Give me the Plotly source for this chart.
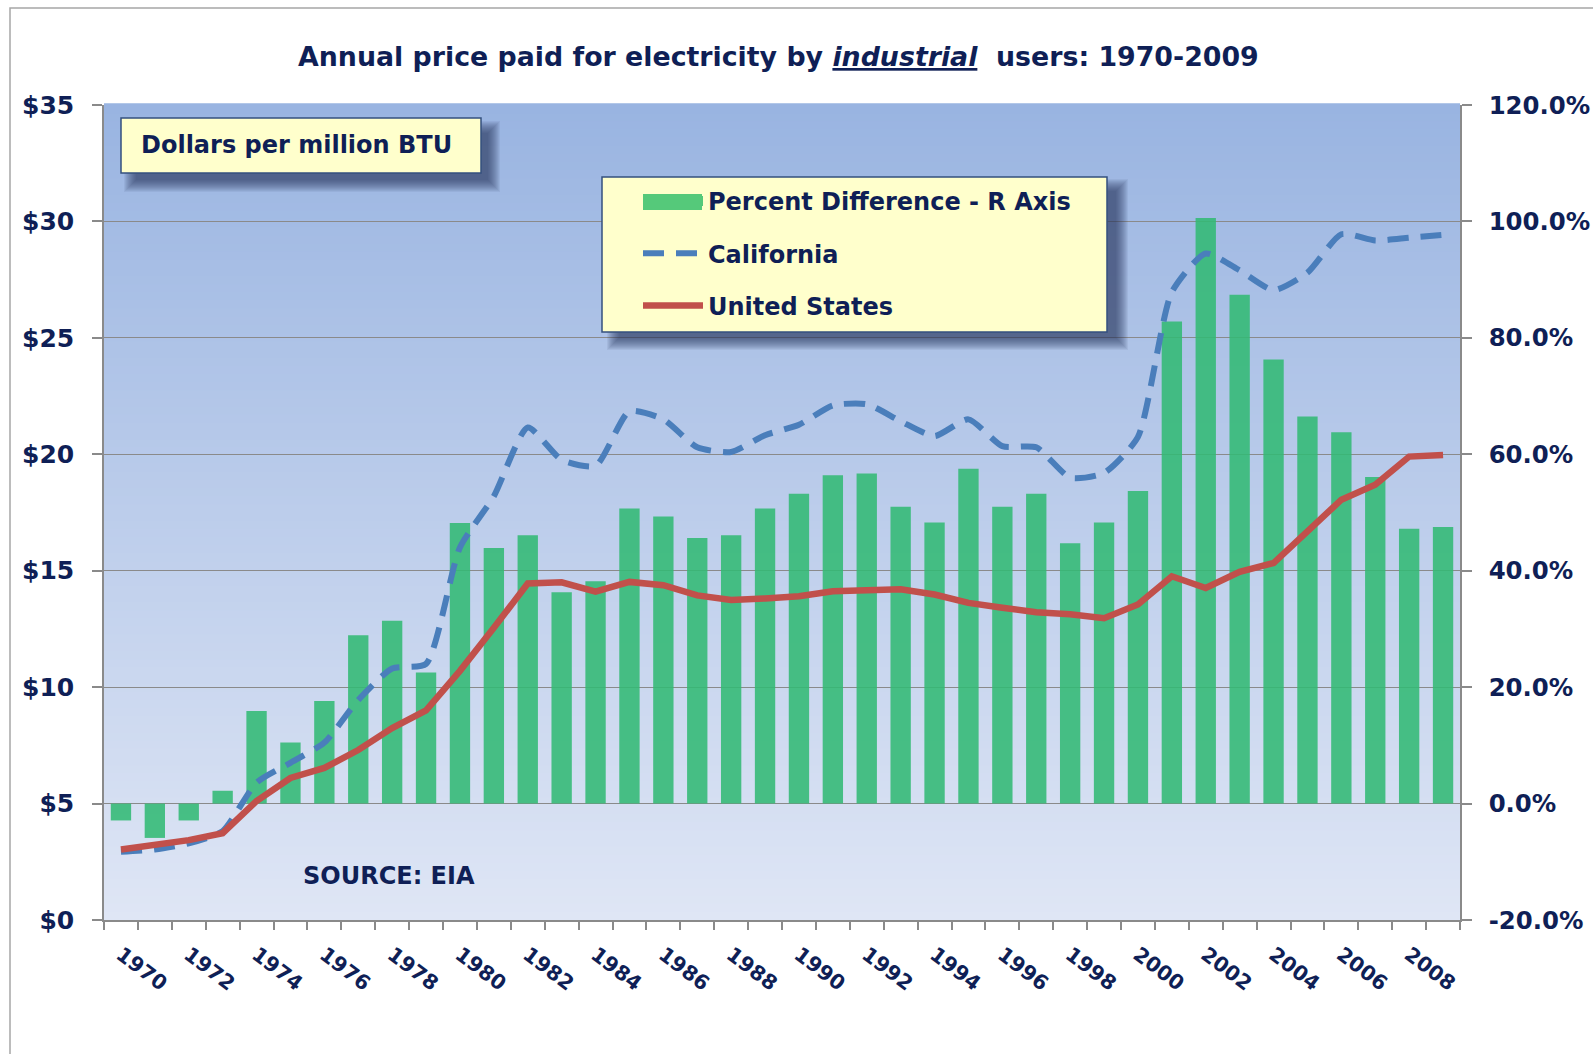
import plotly.graph_objects as go

# ---------------- data ----------------
years = list(range(1970, 2010))
pct_diff = [-2.9, -5.9, -2.9, 2.2, 15.9, 10.5, 17.6, 28.9, 31.4, 22.5,
            48.2, 43.9, 46.1, 36.3, 38.2, 50.7, 49.3, 45.6, 46.1, 50.7,
            53.2, 56.4, 56.7, 51.0, 48.3, 57.5, 51.0, 53.2, 44.7, 48.3,
            53.7, 82.8, 100.6, 87.4, 76.3, 66.5, 63.8, 56.1, 47.2, 47.5]
california = [2.93, 3.03, 3.29, 3.82, 5.9, 6.75, 7.62, 9.45, 10.8, 11.0,
              16.0, 18.2, 21.15, 19.76, 19.5, 21.85, 21.5, 20.3, 20.1, 20.82,
              21.27, 22.1, 22.15, 21.42, 20.78, 21.5, 20.35, 20.3, 19.0, 19.2,
              20.75, 26.97, 28.62, 27.9, 27.05, 27.8, 29.45, 29.18, 29.3, 29.42]
united_states = [3.03, 3.22, 3.43, 3.73, 5.11, 6.1, 6.53, 7.3, 8.24, 9.0,
                 10.7, 12.55, 14.45, 14.5, 14.1, 14.52, 14.38, 13.94, 13.74, 13.81,
                 13.9, 14.12, 14.15, 14.2, 13.98, 13.62, 13.41, 13.22, 13.13, 12.96,
                 13.55, 14.76, 14.26, 14.95, 15.33, 16.69, 18.05, 18.69, 19.9, 19.97]
tick_years = years[::2]
dollar_ticks = [0, 5, 10, 15, 20, 25, 30, 35]
pct_ticks = [-20, 0, 20, 40, 60, 80, 100, 120]

# ---------------- styling ----------------
W, H = 1593, 1054
L, R, T, B = 104, 1460, 105, 920          # plot area in screen pixels
NAVY = "#0f1f56"
FONT = "DejaVu Sans"
GRID = "#8a8a8a"


def px(x):
    return (x - L) / (R - L)


def py(y):
    return (B - y) / (B - T)


fig = go.Figure()

fig.add_trace(go.Bar(
    x=years, y=pct_diff, yaxis="y", width=0.6,
    marker=dict(color="rgba(50,186,116,0.88)", line=dict(width=0)),
    name="Percent Difference - R Axis", showlegend=False, legendgroup="g1",
))
# legend entry for the bars
fig.add_trace(go.Scatter(
    x=[None], y=[None], mode="lines", yaxis="y",
    line=dict(color="#55c97a", width=16),
    name="Percent Difference - R Axis", legendgroup="g1",
))
fig.add_trace(go.Scatter(
    x=years, y=california, yaxis="y2", mode="lines",
    line=dict(color="#4a7ebb", width=6, dash="21px,12px", shape="spline", smoothing=0.6),
    name="California", legendgroup="g2",
))
fig.add_trace(go.Scatter(
    x=years, y=united_states, yaxis="y2", mode="lines",
    line=dict(color="#c1504b", width=6.5),
    name="United States", legendgroup="g3",
))

shapes = []
# background gradient of the plot area
top_c = (153, 180, 225)
bot_c = (223, 230, 245)
N = 100
for i in range(N):
    f = (i + 0.5) / N
    c = tuple(int(round(bot_c[k] + (top_c[k] - bot_c[k]) * f)) for k in range(3))
    shapes.append(dict(type="rect", xref="paper", yref="paper", layer="below",
                       x0=0, x1=1, y0=i / N, y1=(i + 1) / N + 0.002,
                       line=dict(width=0), fillcolor="rgb(%d,%d,%d)" % c))

# outer chart border
shapes.append(dict(type="rect", xref="paper", yref="paper", layer="below",
                   x0=px(10), x1=px(1640), y0=py(1080), y1=py(8),
                   line=dict(color="#a6a6a6", width=1.5), fillcolor="rgba(0,0,0,0)"))


def shadow_box(x0, y0, x1, y1, dx, dy):
    out = []
    # soft drop shadow built from stacked translucent rectangles
    for grow in range(8, -5, -1):
        out.append(dict(type="rect", xref="paper", yref="paper", layer="above",
                        x0=px(x0 + dx - grow), x1=px(x1 + dx + grow),
                        y0=py(y1 + dy + grow), y1=py(y0 + dy - grow),
                        line=dict(width=0), fillcolor="rgba(45,60,95,0.075)"))
    out.append(dict(type="rect", xref="paper", yref="paper", layer="above",
                    x0=px(x0), x1=px(x1), y0=py(y1), y1=py(y0),
                    line=dict(color="#34507f", width=1.5), fillcolor="#ffffcc"))
    return out


shapes += shadow_box(121, 118, 481, 173, 11, 11)
shapes += shadow_box(602, 177, 1107, 332, 13, 10)
# wide green swatch of the legend entry for the bars
shapes.append(dict(type="rect", xref="paper", yref="paper", layer="above",
                   x0=px(643), x1=px(702), y0=py(210), y1=py(194),
                   line=dict(width=0), fillcolor="#55c97a"))

annotations = [
    dict(xref="paper", yref="paper", x=px(778), y=py(57), xanchor="center", yanchor="middle",
         showarrow=False, font=dict(family=FONT, size=26.8, color=NAVY),
         text="<b>Annual price paid for electricity by <i><u>industrial</u></i>\u00a0 users: 1970-2009</b>"),
    dict(xref="paper", yref="paper", x=px(139), y=py(145), xanchor="left", yanchor="middle",
         showarrow=False, font=dict(family=FONT, size=24, color=NAVY),
         text="<b>Dollars per million BTU</b>"),
    dict(xref="paper", yref="paper", x=px(301), y=py(876), xanchor="left", yanchor="middle",
         showarrow=False, font=dict(family=FONT, size=24, color=NAVY),
         text="<b>SOURCE: EIA</b>"),
]

fig.update_layout(
    width=W, height=H, autosize=False,
    margin=dict(l=L, r=W - R, t=T, b=H - B, pad=0, autoexpand=False),
    paper_bgcolor="white", plot_bgcolor="rgba(0,0,0,0)",
    font=dict(family=FONT, color=NAVY),
    shapes=shapes, annotations=annotations,
    bargap=0.4,
    showlegend=True,
    legend=dict(x=px(638), y=py(179), xanchor="left", yanchor="top",
                bgcolor="rgba(0,0,0,0)", borderwidth=0,
                font=dict(family=FONT, size=24, color=NAVY, weight="bold"),
                itemwidth=60, tracegroupgap=18, traceorder="grouped"),
    xaxis=dict(range=[1969.5, 2009.5], tickmode="array", tickvals=tick_years,
               ticktext=[str(y) for y in tick_years], tickangle=37,
               tickfont=dict(family=FONT, size=20.5, color=NAVY, weight="bold"),
               ticks="", showline=True, linecolor=GRID, linewidth=1.5,
               showgrid=False, zeroline=False, ticklabelstandoff=13, automargin=False,
               minor=dict(ticks="outside", ticklen=8, tickcolor=GRID, tickwidth=1.5,
                          tick0=1969.5, dtick=1, showgrid=False)),
    yaxis=dict(range=[-20, 120], tickmode="array", tickvals=pct_ticks,
               ticktext=["%.1f%%" % v for v in pct_ticks], side="right",
               tickfont=dict(family=FONT, size=24.4, color=NAVY, weight="bold"),
               ticks="outside", ticklen=10, tickcolor=GRID, tickwidth=1.5,
               showline=True, linecolor=GRID, linewidth=1.5,
               showgrid=True, gridcolor=GRID, gridwidth=1.3, zeroline=False,
               ticklabelstandoff=12, automargin=False),
    yaxis2=dict(range=[0, 35], tickmode="array", tickvals=dollar_ticks,
                ticktext=["$%d" % v for v in dollar_ticks], side="left", overlaying="y",
                tickfont=dict(family=FONT, size=25, color=NAVY, weight="bold"),
                ticks="outside", ticklen=10, tickcolor=GRID, tickwidth=1.5,
                showline=True, linecolor=GRID, linewidth=1.5,
                showgrid=False, zeroline=False, ticklabelstandoff=13, automargin=False),
)

fig.write_html("out.html",
               config={"displayModeBar": False, "responsive": False},
               post_script="document.body.style.margin='0';document.body.style.overflow='hidden';")
